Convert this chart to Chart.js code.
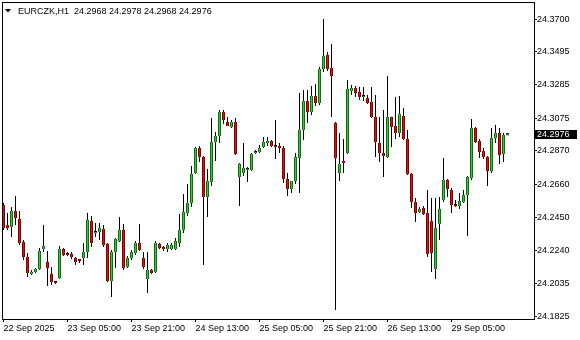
<!DOCTYPE html>
<html>
<head>
<meta charset="utf-8">
<script src="https://cdn.jsdelivr.net/npm/chart.js@4.4.1/dist/chart.umd.min.js"></script>
<style>
  html, body { margin: 0; padding: 0; background: #fff; }
  #wrap { width: 580px; height: 340px; position: relative; }
</style>
</head>
<body>
<div id="wrap"><canvas id="chart"></canvas></div>
<script>
const symbol = 'EURCZK';
const period = 'H1';

// x axis: bar index of each time label
const tickBars = [0, 16, 32, 48, 64, 80, 96, 112];
const tickLabels = ['22 Sep 2025', '23 Sep 05:00', '23 Sep 21:00', '24 Sep 13:00', '25 Sep 05:00', '25 Sep 21:00', '26 Sep 13:00', '29 Sep 05:00'];
const yTicks = [24.1825, 24.2035, 24.2240, 24.2450, 24.2660, 24.2870, 24.3075, 24.3285, 24.3495, 24.3700];

const opens = [
  24.2528, 24.2402, 24.2390, 24.2490, 24.2440, 24.2295, 24.2201, 24.2094, 24.2106, 24.2125,
  24.2251, 24.2169, 24.2094, 24.2043, 24.2068, 24.2251, 24.2220, 24.2220, 24.2194, 24.2176,
  24.2194, 24.2232, 24.2427, 24.2352, 24.2358, 24.2377, 24.2283, 24.2049, 24.2232, 24.2301,
  24.2371, 24.2138, 24.2194, 24.2226, 24.2289, 24.2194, 24.2062, 24.2119, 24.2106, 24.2283,
  24.2264, 24.2251, 24.2251, 24.2251, 24.2289, 24.2371, 24.2478, 24.2541, 24.2730, 24.2887,
  24.2831, 24.2579, 24.2673, 24.2925, 24.2963, 24.3114, 24.3051, 24.3020, 24.3051, 24.2705,
  24.2730, 24.2749, 24.2749, 24.2856, 24.2862, 24.2894, 24.2919, 24.2931, 24.2900, 24.2900,
  24.2887, 24.2692, 24.2629, 24.2679, 24.2824, 24.3001, 24.3183, 24.3114, 24.3215, 24.3171,
  24.3385, 24.3473, 24.3391, 24.3045, 24.2730, 24.2805, 24.2856, 24.3246, 24.3265, 24.3240,
  24.3209, 24.3202, 24.3177, 24.3083, 24.2919, 24.2856, 24.2831, 24.3083, 24.3026, 24.2982,
  24.3089, 24.2944, 24.2724, 24.2547, 24.2484, 24.2509, 24.2478, 24.2427, 24.2125, 24.2409,
  24.2560, 24.2686, 24.2623, 24.2522, 24.2522, 24.2547, 24.2591, 24.2698, 24.3013, 24.2931,
  24.2868, 24.2831, 24.2742, 24.2950, 24.2982, 24.2850, 24.2968
];
const highs = [
  24.2541, 24.2478, 24.2516, 24.2585, 24.2490, 24.2308, 24.2226, 24.2119, 24.2131, 24.2257,
  24.2402, 24.2238, 24.2138, 24.2049, 24.2270, 24.2257, 24.2232, 24.2232, 24.2201, 24.2177,
  24.2289, 24.2478, 24.2459, 24.2415, 24.2415, 24.2402, 24.2289, 24.2245, 24.2320, 24.2453,
  24.2409, 24.2207, 24.2245, 24.2301, 24.2409, 24.2232, 24.2232, 24.2125, 24.2301, 24.2289,
  24.2270, 24.2289, 24.2289, 24.2320, 24.2472, 24.2598, 24.2661, 24.2774, 24.2894, 24.2900,
  24.2837, 24.2755, 24.3076, 24.2988, 24.3127, 24.3127, 24.3083, 24.3064, 24.3076, 24.2793,
  24.2919, 24.2768, 24.2856, 24.2875, 24.2906, 24.2957, 24.2957, 24.2938, 24.3064, 24.2919,
  24.2900, 24.2730, 24.2679, 24.2856, 24.3234, 24.3253, 24.3253, 24.3278, 24.3291, 24.3398,
  24.3700, 24.3492, 24.3543, 24.3051, 24.2982, 24.2944, 24.3316, 24.3284, 24.3278, 24.3272,
  24.3272, 24.3221, 24.3272, 24.3221, 24.3083, 24.3127, 24.3341, 24.3085, 24.3209, 24.3215,
  24.3139, 24.3001, 24.2730, 24.2572, 24.2516, 24.2522, 24.2623, 24.2572, 24.2572, 24.2579,
  24.2824, 24.2692, 24.2635, 24.2560, 24.2604, 24.2623, 24.2711, 24.3070, 24.3020, 24.2944,
  24.2887, 24.2837, 24.3013, 24.3032, 24.3013, 24.2982, 24.2978
];
const lows = [
  24.2371, 24.2371, 24.2327, 24.2402, 24.2276, 24.2182, 24.2075, 24.2087, 24.2100, 24.2119,
  24.2232, 24.2018, 24.2024, 24.2031, 24.2062, 24.2207, 24.2207, 24.2188, 24.2150, 24.2163,
  24.2150, 24.2194, 24.2264, 24.2327, 24.2308, 24.2264, 24.2043, 24.1949, 24.2131, 24.2295,
  24.2119, 24.2131, 24.2182, 24.2213, 24.2238, 24.2125, 24.1974, 24.2094, 24.2100, 24.2251,
  24.2238, 24.2232, 24.2245, 24.2245, 24.2264, 24.2352, 24.2459, 24.2516, 24.2724, 24.2799,
  24.2150, 24.2453, 24.2648, 24.2805, 24.2919, 24.3039, 24.3026, 24.3013, 24.2843, 24.2522,
  24.2711, 24.2673, 24.2742, 24.2850, 24.2856, 24.2887, 24.2900, 24.2894, 24.2818, 24.2856,
  24.2667, 24.2585, 24.2604, 24.2661, 24.2604, 24.2938, 24.3045, 24.3095, 24.3152, 24.3158,
  24.3366, 24.3372, 24.3083, 24.1867, 24.2679, 24.2730, 24.2850, 24.3221, 24.3209, 24.3190,
  24.3183, 24.3165, 24.3076, 24.2831, 24.2799, 24.2705, 24.2825, 24.2894, 24.2944, 24.2957,
  24.2938, 24.2717, 24.2509, 24.2421, 24.2478, 24.2465, 24.2201, 24.2106, 24.2062, 24.2308,
  24.2547, 24.2579, 24.2478, 24.2516, 24.2503, 24.2541, 24.2333, 24.2686, 24.2919, 24.2824,
  24.2818, 24.2648, 24.2730, 24.2919, 24.2787, 24.2799, 24.2968
];
const closes = [
  24.2383, 24.2383, 24.2490, 24.2446, 24.2289, 24.2201, 24.2100, 24.2106, 24.2125, 24.2238,
  24.2270, 24.2131, 24.2043, 24.2037, 24.2251, 24.2213, 24.2213, 24.2201, 24.2169, 24.2175,
  24.2232, 24.2434, 24.2289, 24.2358, 24.2383, 24.2276, 24.2049, 24.2232, 24.2314, 24.2371,
  24.2131, 24.2194, 24.2232, 24.2289, 24.2245, 24.2138, 24.2119, 24.2100, 24.2289, 24.2257,
  24.2251, 24.2276, 24.2276, 24.2301, 24.2371, 24.2484, 24.2541, 24.2724, 24.2887, 24.2831,
  24.2579, 24.2679, 24.2925, 24.2963, 24.3114, 24.3064, 24.3026, 24.3051, 24.2850, 24.2787,
  24.2761, 24.2755, 24.2850, 24.2862, 24.2887, 24.2925, 24.2931, 24.2900, 24.2894, 24.2887,
  24.2692, 24.2629, 24.2679, 24.2831, 24.3001, 24.3183, 24.3114, 24.3215, 24.3171, 24.3385,
  24.3467, 24.3385, 24.3341, 24.2824, 24.2787, 24.2793, 24.3259, 24.3265, 24.3234, 24.3209,
  24.3215, 24.3171, 24.3083, 24.2925, 24.2856, 24.2837, 24.3083, 24.3020, 24.2982, 24.3102,
  24.2944, 24.2724, 24.2547, 24.2478, 24.2503, 24.2472, 24.2220, 24.2226, 24.2383, 24.2503,
  24.2686, 24.2629, 24.2528, 24.2521, 24.2553, 24.2591, 24.2705, 24.3013, 24.2925, 24.2862,
  24.2831, 24.2742, 24.2950, 24.2982, 24.2843, 24.2969, 24.2976
];

const FONT_FAMILY = '"Liberation Sans", Arial, sans-serif';
const bars = opens.map((o, i) => i);
const last = bars.length - 1;
const bodyColors = bars.map(i => closes[i] > opens[i] ? '#32cd32' : closes[i] < opens[i] ? '#e01010' : '#000');

// frame, title line and the current price box
const mtDecor = {
  id: 'mtDecor',
  afterDraw(chart) {
    const ctx = chart.ctx;
    const a = chart.chartArea;
    ctx.save();
    ctx.strokeStyle = '#000';
    ctx.lineWidth = 1;
    ctx.strokeRect(a.left - 0.5, a.top - 0.5, a.right - a.left + 1, a.bottom - a.top + 1);

    ctx.fillStyle = '#000';
    ctx.beginPath();
    ctx.moveTo(5, 9); ctx.lineTo(11, 9); ctx.lineTo(8, 12.5); ctx.closePath();
    ctx.fill();
    ctx.font = '9px ' + FONT_FAMILY;
    ctx.textBaseline = 'alphabetic';
    ctx.textAlign = 'left';
    const t = `${symbol},${period}  ${opens[last].toFixed(4)} ${highs[last].toFixed(4)} ${lows[last].toFixed(4)} ${closes[last].toFixed(4)}`;
    ctx.fillText(t, 18, 14);

    const y = chart.scales.y.getPixelForValue(closes[last]);
    ctx.fillRect(a.right + 1, Math.round(y) - 4, 42, 9);
    ctx.fillStyle = '#fff';
    ctx.textBaseline = 'middle';
    ctx.fillText(closes[last].toFixed(4), a.right + 3, Math.round(y) + 0.5);
    ctx.restore();
  }
};

const plainBar = { borderWidth: 0, inflateAmount: 0, grouped: false };

new Chart(document.getElementById('chart'), {
  type: 'bar',
  data: {
    datasets: [
      // first dataset is drawn on top
      { label: 'body fill', data: bars.map(i => ({ x: i, y: [opens[i], closes[i]] })), backgroundColor: bodyColors, barThickness: 2, minBarLength: 1, ...plainBar },
      { label: 'body edge', data: bars.map(i => ({ x: i, y: [opens[i], closes[i]] })), backgroundColor: '#000', barThickness: 3, minBarLength: 2, ...plainBar },
      { label: 'upper wick', data: bars.map(i => ({ x: i, y: [Math.max(opens[i], closes[i]), highs[i]] })), backgroundColor: '#000', barThickness: 1, ...plainBar },
      { label: 'lower wick', data: bars.map(i => ({ x: i, y: [lows[i], Math.min(opens[i], closes[i])] })), backgroundColor: '#000', barThickness: 1, ...plainBar }
    ]
  },
  options: {
    responsive: true, maintainAspectRatio: false, animation: false,
    layout: { padding: { left: 3, top: 3, right: 0, bottom: 0 } },
    plugins: { legend: { display: false }, tooltip: { enabled: false } },
    scales: {
      x: {
        type: 'linear', min: -0.125, max: 132.625, offset: false,
        afterBuildTicks: s => { s.ticks = tickBars.map(v => ({ value: v })); },
        afterFit: s => { s.height = 21; s.paddingLeft = 0; s.paddingRight = 0; },
        grid: { offset: false, drawOnChartArea: false, drawTicks: true, tickLength: 3, color: '#000' },
        border: { display: false },
        ticks: { autoSkip: false, maxRotation: 0, align: 'start', padding: 1, color: '#000', font: { family: FONT_FAMILY, size: 9 }, callback: (v, i) => tickLabels[i] }
      },
      y: {
        position: 'right', min: 24.1810, max: 24.3801, beginAtZero: false,
        afterBuildTicks: s => { s.ticks = yTicks.map(v => ({ value: v })); },
        afterFit: s => { s.width = 46; s.paddingTop = 0; s.paddingBottom = 0; },
        grid: { drawOnChartArea: false, drawTicks: true, tickLength: 3, color: '#000' },
        border: { display: false },
        ticks: { padding: 0, color: '#000', font: { family: FONT_FAMILY, size: 9 }, callback: v => v.toFixed(4) }
      }
    }
  },
  plugins: [mtDecor]
});
</script>
</body>
</html>
